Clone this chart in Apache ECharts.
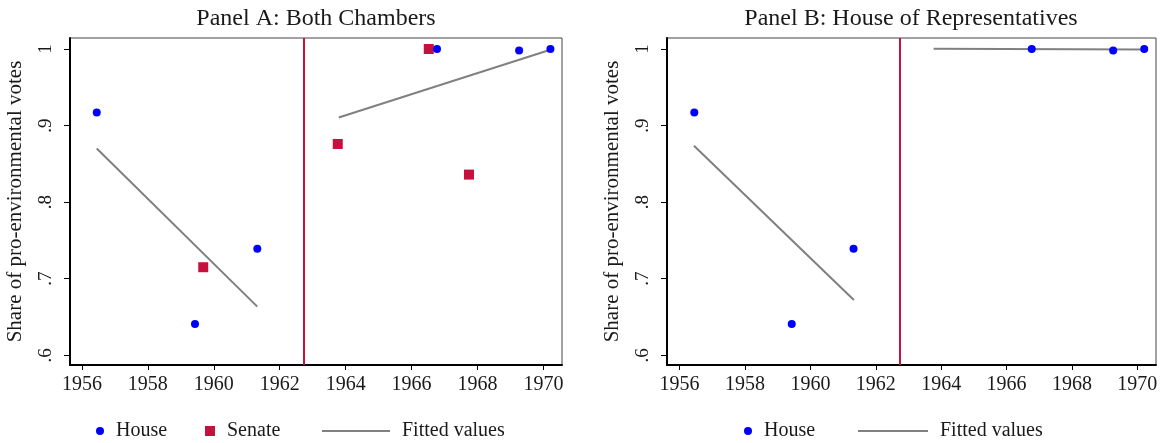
<!DOCTYPE html>
<html>
<head>
<meta charset="utf-8">
<script src="https://cdn.jsdelivr.net/npm/echarts@6/dist/echarts.min.js"></script>
<style>
  html, body { margin: 0; padding: 0; background: #ffffff; }
  #chart { width: 1164px; height: 443px; }
</style>
</head>
<body>
<div id="chart"></div>
<script>
// House roll-call shares (same House votes appear in both panels)
const houseYears = [1956.45, 1959.43, 1961.32, 1966.77, 1969.26, 1970.21];
const houseShare = [0.917, 0.641, 0.739, 1.0, 0.998, 1.0];

// Senate roll-call shares (Panel A only)
const senateYears = [1959.68, 1963.76, 1966.52, 1967.74];
const senateShare = [0.715, 0.876, 1.0, 0.836];

// Linear fits before and after the break, both chambers
const fitAPreYears = [1956.45, 1961.32];
const fitAPre = [0.870, 0.6635];
const fitAPostYears = [1963.79, 1970.21];
const fitAPost = [0.9106, 0.999];

// Linear fits before and after the break, House only
const fitBPreYears = [1956.44, 1961.33];
const fitBPre = [0.8736, 0.6723];
const fitBPostYears = [1963.77, 1970.19];
const fitBPost = [1.0004, 0.9995];

// Break year marked by the vertical line
const cutoffYear = 1962.73;

// Axis ticks
const xTicks = [1956, 1958, 1960, 1962, 1964, 1966, 1968, 1970];
const yTicks = [0.6, 0.7, 0.8, 0.9, 1];
const yTickLabels = ['.6', '.7', '.8', '.9', '1'];

const FONT = 'Liberation Serif';
const TEXT = '#1a1a1a';
const BLUE = '#0000ff';
const RED = '#c8103e';
const GREY = '#808080';

const pairs = (xs, ys) => xs.map((x, i) => [x, ys[i]]);

function xAxisFor(gridIndex, min, max) {
  return {
    type: 'value', gridIndex, min, max,
    axisLine: { show: true, onZero: false, lineStyle: { color: '#000', width: 2 } },
    axisTick: { show: true, length: 5, customValues: xTicks, lineStyle: { color: '#000', width: 1 } },
    axisLabel: {
      customValues: xTicks, margin: 10,
      fontFamily: FONT, fontSize: 20, color: TEXT,
      formatter: v => String(Math.round(v))
    },
    splitLine: { show: false }
  };
}

function yAxisFor(gridIndex) {
  return {
    type: 'value', gridIndex, min: 0.5873, max: 1.0144,
    name: 'Share of pro-environmental votes',
    nameLocation: 'middle', nameRotate: 90, nameGap: 44,
    nameTextStyle: { fontFamily: FONT, fontSize: 21, color: TEXT },
    axisLine: { show: true, onZero: false, lineStyle: { color: '#000', width: 2 } },
    axisTick: { show: true, length: 6, customValues: yTicks, lineStyle: { color: '#000', width: 1 } },
    axisLabel: {
      customValues: yTicks, rotate: 90, margin: 14,
      fontFamily: FONT, fontSize: 19, color: TEXT,
      formatter: v => {
        const i = yTicks.findIndex(t => Math.abs(t - v) < 1e-6);
        return i >= 0 ? yTickLabels[i] : '';
      }
    },
    splitLine: { show: false }
  };
}

function fitSeries(idx, xs, ys) {
  return {
    name: 'Fitted values', type: 'line',
    xAxisIndex: idx, yAxisIndex: idx,
    data: pairs(xs, ys),
    symbol: 'none', silent: true, z: 2,
    lineStyle: { color: GREY, width: 2 },
    itemStyle: { color: GREY }
  };
}

function cutoffLine() {
  return {
    silent: true, symbol: ['none', 'none'],
    label: { show: false },
    lineStyle: { color: RED, width: 2, type: 'solid', opacity: 1 },
    data: [{ xAxis: cutoffYear }]
  };
}

function legendItem(name, left, opts) {
  return Object.assign({
    data: [name], left, top: 421, padding: 0,
    selectedMode: false,
    textStyle: { fontFamily: FONT, fontSize: 20, color: TEXT, padding: [0, 0, 0, 7] }
  }, opts);
}

const option = {
  backgroundColor: '#ffffff',
  animation: false,
  title: [
    { text: 'Panel A: Both Chambers', left: 316, top: 7, textAlign: 'center', padding: 0,
      textStyle: { fontFamily: FONT, fontSize: 24, fontWeight: 'normal', color: TEXT } },
    { text: 'Panel B: House of Representatives', left: 911, top: 7, textAlign: 'center', padding: 0,
      textStyle: { fontFamily: FONT, fontSize: 24, fontWeight: 'normal', color: TEXT } }
  ],
  grid: [
    { left: 70, top: 38, width: 492, height: 327, show: true, borderColor: '#444', borderWidth: 1,
      backgroundColor: '#fff', containLabel: false, outerBoundsMode: 'none' },
    { left: 667, top: 38, width: 489, height: 327, show: true, borderColor: '#444', borderWidth: 1,
      backgroundColor: '#fff', containLabel: false, outerBoundsMode: 'none' }
  ],
  xAxis: [xAxisFor(0, 1955.639, 1970.561), xAxisFor(1, 1955.615, 1970.57)],
  yAxis: [yAxisFor(0), yAxisFor(1)],
  legend: [
    legendItem('House', 96, { itemWidth: 8, itemHeight: 8, icon: 'circle' }),
    legendItem('Senate', 205, { itemWidth: 10, itemHeight: 10, icon: 'rect' }),
    legendItem('Fitted values', 322, { itemWidth: 68, itemHeight: 2, icon: 'rect' }),
    legendItem('House', 744, { itemWidth: 8, itemHeight: 8, icon: 'circle' }),
    legendItem('Fitted values', 858, { itemWidth: 70, itemHeight: 2, icon: 'rect' })
  ],
  series: [
    fitSeries(0, fitAPreYears, fitAPre),
    fitSeries(0, fitAPostYears, fitAPost),
    {
      name: 'Senate', type: 'scatter', xAxisIndex: 0, yAxisIndex: 0,
      data: pairs(senateYears, senateShare),
      symbol: 'rect', symbolSize: 10, z: 3,
      itemStyle: { color: RED, opacity: 1 }
    },
    {
      name: 'House', type: 'scatter', xAxisIndex: 0, yAxisIndex: 0,
      data: pairs(houseYears, houseShare),
      symbol: 'circle', symbolSize: 8, z: 4,
      itemStyle: { color: BLUE, opacity: 1 },
      markLine: cutoffLine()
    },
    fitSeries(1, fitBPreYears, fitBPre),
    fitSeries(1, fitBPostYears, fitBPost),
    {
      name: 'House', type: 'scatter', xAxisIndex: 1, yAxisIndex: 1,
      data: pairs(houseYears, houseShare),
      symbol: 'circle', symbolSize: 8, z: 4,
      itemStyle: { color: BLUE, opacity: 1 },
      markLine: cutoffLine()
    }
  ]
};

const chart = echarts.init(document.getElementById('chart'), null, { renderer: 'canvas' });
chart.setOption(option);
</script>
</body>
</html>
